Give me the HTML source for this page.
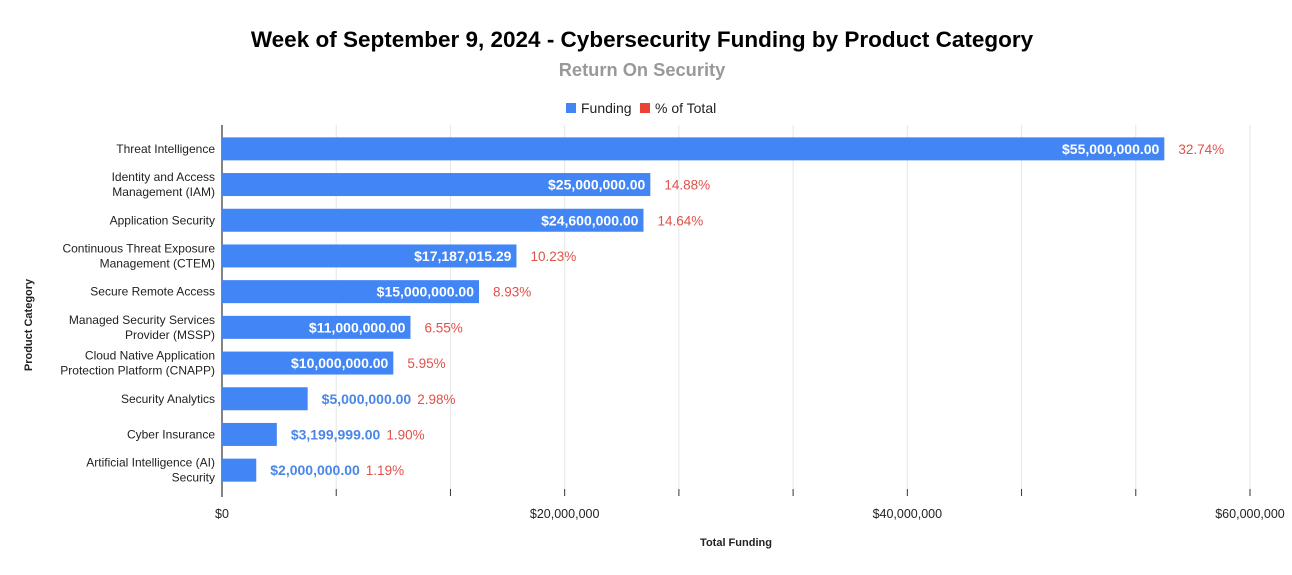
<!DOCTYPE html>
<html><head><meta charset="utf-8"><style>
body{margin:0;background:#fff;}
svg{display:block;font-family:"Liberation Sans",Arial,sans-serif;}
</style></head><body>
<svg id="chart" width="1292" height="575">
<text x="642" y="47" text-anchor="middle" font-size="22.5" font-weight="bold" fill="#000">Week of September 9, 2024 - Cybersecurity Funding by Product Category</text>
<text x="642" y="76" text-anchor="middle" font-size="18.3" font-weight="bold" fill="#999">Return On Security</text>
<g>
<g><rect x="566" y="103" width="10" height="10" fill="#4285f4"/><text x="581" y="113" font-size="14" fill="#222">Funding</text></g>
<g><rect x="640" y="103" width="10" height="10" fill="#ea4335"/><text x="655" y="113" font-size="14" fill="#222">% of Total</text></g>
</g>
<text transform="translate(32,325) rotate(-90)" text-anchor="middle" font-size="11" font-weight="bold" fill="#222">Product Category</text>
<text x="736" y="546" text-anchor="middle" font-size="11" font-weight="bold" fill="#222">Total Funding</text>
<g id="grid"></g><g id="bars"></g><g id="ylabels"></g>
</svg>
<script>
const categories=[["Threat Intelligence"],["Identity and Access","Management (IAM)"],["Application Security"],["Continuous Threat Exposure","Management (CTEM)"],["Secure Remote Access"],["Managed Security Services","Provider (MSSP)"],["Cloud Native Application","Protection Platform (CNAPP)"],["Security Analytics"],["Cyber Insurance"],["Artificial Intelligence (AI)","Security"]];
const funding=[55000000,25000000,24600000,17187015.29,15000000,11000000,10000000,5000000,3199999,2000000];
const percents=["32.74%","14.88%","14.64%","10.23%","8.93%","6.55%","5.95%","2.98%","1.90%","1.19%"];
const tickValues=[0,20000000,40000000,60000000];
const tickLabels=["$0","$20,000,000","$40,000,000","$60,000,000"];
const NS="http://www.w3.org/2000/svg";
const X0=222,X1=1250,YT=131,YB=488,XMAX=60000000;
const xs=v=>X0+v/XMAX*(X1-X0);
const band=(YB-YT)/categories.length;
const yc=i=>YT+band*(i+0.5);
function mk(t,a,p){const e=document.createElementNS(NS,t);for(const k in a)e.setAttribute(k,a[k]);p.appendChild(e);return e;}
const grid=document.getElementById('grid'),bars=document.getElementById('bars'),yl=document.getElementById('ylabels');
for(let k=1;k<=9;k++){const v=XMAX*k/9;const g=mk('line',{x1:xs(v),x2:xs(v),y1:125,y2:489,stroke:'#e6e6e6','stroke-width':1},grid);


const t=mk('line',{x1:xs(v),x2:xs(v),y1:489,y2:496,stroke:'#333','stroke-width':1},grid);

}
const ax=mk('line',{x1:X0,x2:X0,y1:125,y2:497,stroke:'#333','stroke-width':1.2},grid);


tickValues.forEach((v,i)=>{const t=mk('text',{x:xs(v),y:518,'text-anchor':'middle','font-size':12.5,fill:'#222'},grid);t.textContent=tickLabels[i];

});
const fmt=v=>'$'+v.toLocaleString('en-US',{minimumFractionDigits:2,maximumFractionDigits:2});
funding.forEach((v,i)=>{const y=yc(i),h=23,w=xs(v)-X0;
const r=mk('rect',{x:X0,y:y-h/2,width:w,height:h,fill:'#4285f4'},bars);


const s=fmt(v);
const lab=mk('text',{y:y+5,'font-size':14,'font-weight':'bold'},bars);lab.textContent=s;
const tw=lab.getComputedTextLength();
let end;
if(tw+14<w){lab.setAttribute('x',xs(v)-5);lab.setAttribute('text-anchor','end');lab.setAttribute('fill','#fff');end=xs(v);}
else{lab.setAttribute('x',xs(v)+14);lab.setAttribute('fill','#4a86e8');end=xs(v)+14+tw-8;}


const p=mk('text',{x:end+14,y:y+5,'font-size':13.5,fill:'#e0514a'},bars);p.textContent=percents[i];


const c=categories[i];const t=mk('text',{x:215,'text-anchor':'end','font-size':12,fill:'#222'},yl);


c.forEach((line,j)=>{const ts=mk('tspan',{x:215,y:y+4+(j-(c.length-1)/2)*15},t);ts.textContent=line;});
});
</script>
</body></html>
